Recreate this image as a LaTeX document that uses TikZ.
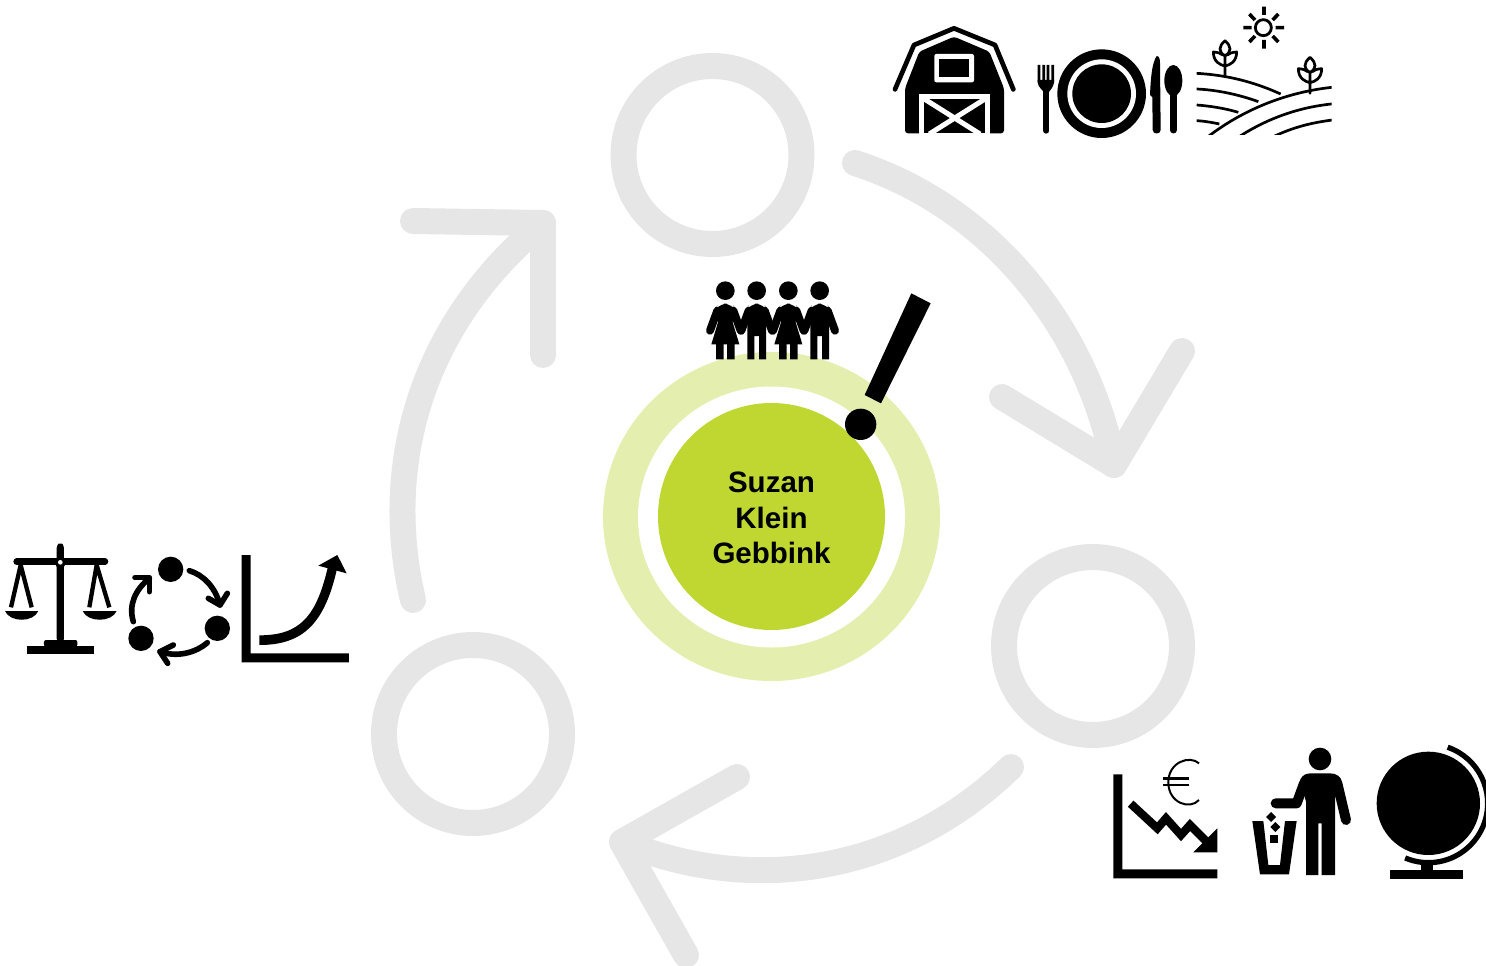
\documentclass[tikz,border=0pt]{standalone}
\usepackage{fontspec}
\usetikzlibrary{shapes.geometric}
\setmainfont{Liberation Sans}
\definecolor{ringgray}{HTML}{E6E6E6}
\definecolor{palelime}{HTML}{E4EEAE}
\definecolor{lime}{HTML}{BFD730}
\tikzset{
  bigring/.style={circle,draw=ringgray,line width=26pt,minimum size=178pt,inner sep=0pt},
  cyclearrow/.style={draw=ringgray,line width=26pt,line cap=round,line join=round},
  zoomed/.style 2 args={shift={(#1,#2)},x=.33333pt,y=-.33333pt},
  thickround/.style={line cap=round,line join=round}
}
\begin{document}
\begin{tikzpicture}[x=1pt,y=-1pt]
\useasboundingbox (0,0) rectangle (1486,966);
\clip (0,0) rectangle (1486,966);
% grey rings
\node[bigring] (top) at (712.5,155) {};
\node[bigring] (right) at (1093,646) {};
\node[bigring] (left) at (473,734) {};
% grey arrows
\coordinate (a1s) at (855,163);
\coordinate (a1t) at (1114,465);
\coordinate (a1a) at (1002,397);
\coordinate (a1b) at (1182,351);
\coordinate (a2s) at (1011,767);
\coordinate (a2t) at (622,842);
\coordinate (a2a) at (737,777);
\coordinate (a2b) at (686,955);
\coordinate (a3s) at (413,600);
\coordinate (a3t) at (543,223);
\coordinate (a3a) at (413,221);
\coordinate (a3b) at (543,355);
\draw[cyclearrow] (a1s) .. controls (985,205) and (1085,320) .. (a1t);
\draw[cyclearrow] (a1a) -- (a1t) -- (a1b);
\draw[cyclearrow] (a2s) .. controls (900,875) and (750,895) .. (a2t);
\draw[cyclearrow] (a2a) -- (a2t) -- (a2b);
\draw[cyclearrow] (a3s) .. controls (380,460) and (425,320) .. (a3t);
\draw[cyclearrow] (a3a) -- (a3t) -- (a3b);
% centre
\node[ellipse,fill=palelime,minimum width=337pt,minimum height=329pt,inner sep=0pt] (halo) at (771.5,516.5) {};
\node[ellipse,fill=white,minimum width=267pt,minimum height=261pt,inner sep=0pt] (gap) at (771.5,517) {};
\node[circle,fill=lime,minimum size=227pt,inner sep=0pt] (disc) at (771.5,516.5) {};
\node[align=center,inner sep=0pt,font=\fontsize{29.5}{35.5}\selectfont\bfseries] (name) at (771.5,518) {Suzan\\Klein\\Gebbink};
% people and exclamation mark
\begin{scope}[zoomed={690}{270}]
  \foreach \c in {106,295}{
    \fill (\c,62) circle[radius=28];
    \draw[line width=8pt,thickround] (\c-24,122) -- (\c-46,182) (\c+24,122) -- (\c+46,182);
    \fill[rounded corners=9pt] (\c-36,130) -- (\c-22,101) -- (\c+22,101) -- (\c+36,130) -- (\c+24,165) -- (\c-24,165) -- cycle;
    \fill (\c-20,150) -- (\c+20,150) -- (\c+42,223) -- (\c-42,223) -- cycle;
    \fill (\c-28,220) rectangle (\c-5,268) (\c+5,220) rectangle (\c+28,268);
  }
  \foreach \c in {200,389}{
    \fill (\c,62) circle[radius=28];
    \draw[line width=8pt,thickround] (\c-24,122) -- (\c-46,182) (\c+24,122) -- (\c+46,182);
    \fill[rounded corners=9pt] (\c-36,130) -- (\c-22,101) -- (\c+22,101) -- (\c+36,130) -- (\c+28,165) -- (\c-28,165) -- cycle;
    \fill (\c-28,150) rectangle (\c+28,198) (\c-28,196) rectangle (\c-7,268) (\c+7,196) rectangle (\c+28,268);
  }
  \fill (664,70) -- (722,100) -- (573,400) -- (524,375) -- cycle;
  \fill (512,463) circle[radius=47];
\end{scope}
% barn, plate, field
\begin{scope}[zoomed={880}{0}]
  \draw[line width=4.7pt,thickround] (45,268) -- (102,135) -- (222,85) -- (345,135) -- (400,268);
  \fill[rounded corners=3pt] (75,400) -- (75,265) -- (118,155) -- (222,110) -- (328,155) -- (372,265) -- (372,400) -- cycle;
  \fill[white,rounded corners=2pt] (163,162) rectangle (282,247);
  \fill (178,178) rectangle (267,232);
  \fill[white] (118,402) -- (118,282) -- (330,282) -- (330,402) -- cycle;
  \fill (133,400) -- (133,297) -- (315,297) -- (315,400) -- cycle;
  \draw[white,line width=5pt] (133,297) -- (300,402) (315,297) -- (148,402);
  % plate
  \fill (665,281) circle[radius=133];
  \fill[white] (665,281) circle[radius=103];
  \fill (665,281) circle[radius=88];
  % fork
  \fill (473,195) rectangle (481,245) (487,195) rectangle (495,245) (500,195) rectangle (508,245) (514,195) rectangle (522,245);
  \fill (473,240) -- (522,240) -- (522,248) .. controls (520,262) and (510,270) .. (508,275) -- (490,275) .. controls (488,270) and (475,262) .. (473,248) -- cycle;
  \draw[line width=6pt,thickround] (499,270) -- (499,392);
  % knife
  \fill (830,168) .. controls (838,168) and (840,178) .. (840,190) -- (842,390)
        .. controls (842,404) and (818,404) .. (818,390) -- (817,292) -- (810,285)
        .. controls (812,240) and (815,190) .. (830,168) -- cycle;
  % spoon
  \fill (880,242) ellipse[x radius=27,y radius=47];
  \draw[line width=7pt,thickround] (880,270) -- (880,390);
  % sun
  \draw[line width=2.8pt] (1150,83) circle[radius=24];
  \draw[line width=3.6pt]
    (1152,20) -- (1152,45) (1152,120) -- (1152,146)
    (1090,83) -- (1115,83) (1187,83) -- (1212,83)
    (1108,42) -- (1125,60) (1195,42) -- (1178,60)
    (1108,126) -- (1125,108) (1195,126) -- (1178,108);
  % furrows and plants
  \begin{scope}
    \clip (950,0) rectangle (1355,405);
    \begin{scope}[line width=2.7pt]
      \draw (950,220) .. controls (1040,225) and (1120,245) .. (1202,282);
      \draw (950,267) .. controls (1015,270) and (1080,285) .. (1135,305);
      \draw (950,315) .. controls (990,318) and (1035,325) .. (1075,337);
      \draw (950,362) .. controls (970,363) and (995,367) .. (1018,372);
      \draw (975,417) .. controls (1085,330) and (1220,275) .. (1365,261);
      \draw (1070,415) .. controls (1160,355) and (1260,320) .. (1365,311);
      \draw (1170,415) .. controls (1240,380) and (1300,367) .. (1365,359);
    \end{scope}
    \foreach \dx/\dy in {0/0,255/50}{
      \draw[line width=2.7pt,thickround,shift={(\dx,\dy)}]
        (1035,230) -- (1035,165)
        (1035,122) .. controls (1015,140) and (1015,155) .. (1035,168)
                   .. controls (1055,155) and (1055,140) .. (1035,122)
        (1035,198) .. controls (1020,195) and (1000,185) .. (1000,156)
                   .. controls (1015,157) and (1022,160) .. (1028,165)
        (1035,198) .. controls (1050,195) and (1070,185) .. (1070,156)
                   .. controls (1055,157) and (1048,160) .. (1042,165);
    }
  \end{scope}
\end{scope}
% scales, cycle, graph
\begin{scope}[zoomed={0}{530}]
  \fill[rounded corners=3pt] (170,335) -- (170,45) -- (181,38) -- (192,45) -- (192,335) -- cycle;
  \draw[line width=6.6pt,thickround] (50,95) -- (315,95);
  \fill (82,348) rectangle (282,373);
  \fill[rounded corners=2pt] (132,350) -- (132,330) -- (232,330) -- (232,350) -- cycle;
  \fill (181,97) circle[radius=17];
  \fill[white] (181,97) circle[radius=7];
  \draw[line width=4.3pt] (62,105) -- (33,232) (62,105) -- (95,232) (290,105) -- (268,232) (290,105) -- (328,232);
  \fill (15,243) .. controls (30,278) and (100,278) .. (115,243) -- cycle;
  \fill (248,243) .. controls (263,278) and (335,278) .. (350,243) -- cycle;
  \foreach \x/\y in {512/118,652/295,423/325} \fill (\x,\y) circle[radius=38];
  \begin{scope}[line width=5.6pt,thickround]
    \draw (568,122) .. controls (610,135) and (645,170) .. (660,225);
    \draw (625,205) -- (660,225) -- (682,190);
    \draw (622,338) .. controls (585,370) and (530,382) .. (480,365);
    \draw (520,345) -- (480,365) -- (503,400);
    \draw (400,275) .. controls (385,225) and (405,180) .. (448,145);
    \draw (405,143) -- (448,143) -- (448,185);
  \end{scope}
  \fill (725,75) -- (752,75) -- (752,370) -- (1047,370) -- (1047,397) -- (725,397) -- cycle;
  \fill (778,316) .. controls (900,316) and (950,260) .. (985,105) -- (1012,112)
        .. controls (975,280) and (910,345) .. (778,345) -- cycle;
  \fill (955,107) -- (1012,75) -- (1040,130) -- cycle;
\end{scope}
% euro chart, person, globe
\begin{scope}[zoomed={1100}{735}]
  \fill (40,118) -- (67,118) -- (67,403) -- (352,403) -- (352,430) -- (40,430) -- cycle;
  \draw[line width=8.3pt,miter limit=5] (92,206) -- (172,280) -- (198,250) -- (243,300) -- (270,270) -- (325,325);
  \fill (352,280) -- (352,352) -- (280,352) -- cycle;
  \draw[line width=2pt] (297,85) .. controls (270,60) and (205,80) .. (205,142) .. controls (205,205) and (270,225) .. (297,195);
  \draw[line width=2.6pt] (190,130) -- (268,130) (190,150) -- (268,150);
  % person
  \fill (660,72) circle[radius=34];
  \draw[line width=10pt,thickround] (527,205) -- (590,205) -- (612,145);
  \draw[line width=10pt,thickround] (712,145) -- (738,255);
  \fill (600,135) .. controls (608,118) and (620,115) .. (635,115) -- (690,115) .. controls (710,115) and (722,125) .. (726,140)
        -- (705,190) -- (705,420) -- (665,420) -- (665,265) -- (655,265) -- (655,420) -- (618,420) -- (618,200) -- cycle;
  \fill (457,258) -- (490,258) -- (505,390) -- (540,390) -- (555,258) -- (590,258) -- (567,418) -- (480,418) -- cycle;
  \fill (513,231) -- (528,246) -- (513,261) -- (498,246) -- cycle;
  \fill (526,261) -- (541,276) -- (526,291) -- (511,276) -- cycle;
  \fill (510,300) rectangle (534,324);
  % globe
  \fill (985,205) circle[radius=155];
  \draw[line width=5.3pt] (985,205) ++(-71:178) arc[start angle=-71,end angle=113,radius=178];
  \fill (962,375) rectangle (1000,405);
  \fill (870,405) rectangle (1090,432);
\end{scope}
\end{tikzpicture}
\end{document}
